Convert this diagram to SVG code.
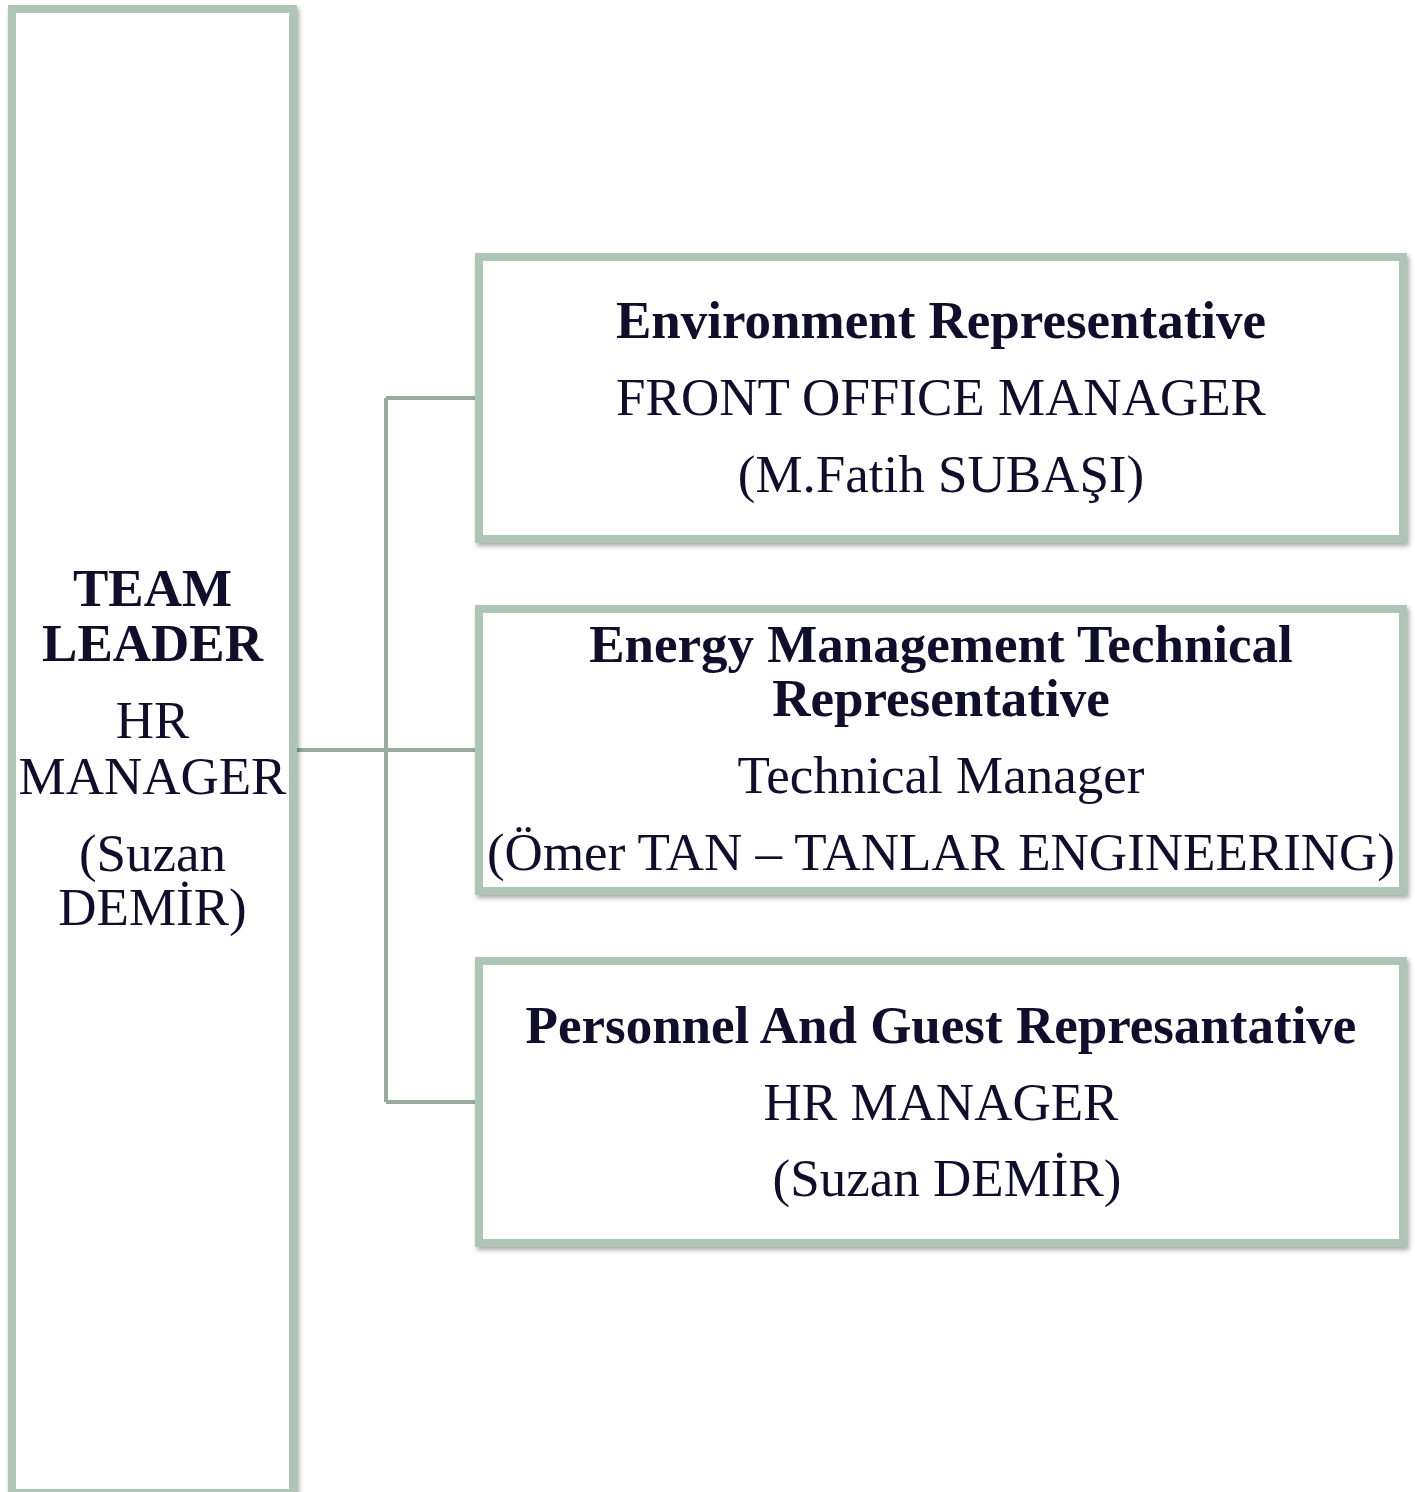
<svg xmlns="http://www.w3.org/2000/svg" width="1415" height="1492" viewBox="0 0 1415 1492">
<style>
.box{fill:#FFFFFF;stroke:#AFC5B8;stroke-width:8;filter:url(#sh)}
.conn{fill:none;stroke:#97AC9F;stroke-width:4}
text{font-family:"Liberation Serif","Times New Roman",serif;font-size:53px;fill:#110E2B;text-anchor:middle}
.b{font-weight:bold}
</style>
<defs>
<filter id="sh" x="-10%" y="-10%" width="120%" height="120%">
<feDropShadow dx="2" dy="3" stdDeviation="2.5" flood-color="#000" flood-opacity="0.35"/>
</filter>
</defs>
<rect width="1415" height="1492" fill="#FFFFFF"/>
<g id="connectors">
<path class="conn" d="M297 750 H475"/>
<path class="conn" d="M386 398 V1102"/>
<path class="conn" d="M386 398 H475"/>
<path class="conn" d="M386 1102 H475"/>
</g>
<g id="team-leader">
<rect class="box" x="12" y="9" width="281" height="1484"/>
<text class="b" x="152.5" y="606">TEAM</text>
<text class="b" x="152.5" y="661">LEADER</text>
<text x="152.5" y="738">HR</text>
<text x="152.5" y="794">MANAGER</text>
<text x="152.5" y="871">(Suzan</text>
<text x="152.5" y="925">DEMİR)</text>
</g>
<g id="environment">
<rect class="box" x="479" y="257" width="924" height="282"/>
<text class="b" x="941" y="338">Environment Representative</text>
<text x="941" y="415">FRONT OFFICE MANAGER</text>
<text x="941" y="492">(M.Fatih SUBAŞI)</text>
</g>
<g id="energy">
<rect class="box" x="479" y="609" width="924" height="282"/>
<text class="b" x="941" y="662">Energy Management Technical</text>
<text class="b" x="941" y="716">Representative</text>
<text x="941" y="793">Technical Manager</text>
<text x="941" y="870">(Ömer TAN – TANLAR ENGINEERING)</text>
</g>
<g id="personnel">
<rect class="box" x="479" y="961" width="924" height="282"/>
<text class="b" x="941" y="1043">Personnel And Guest Represantative</text>
<text x="941" y="1120">HR MANAGER</text>
<text x="947" y="1196">(Suzan DEMİR)</text>
</g>
</svg>
